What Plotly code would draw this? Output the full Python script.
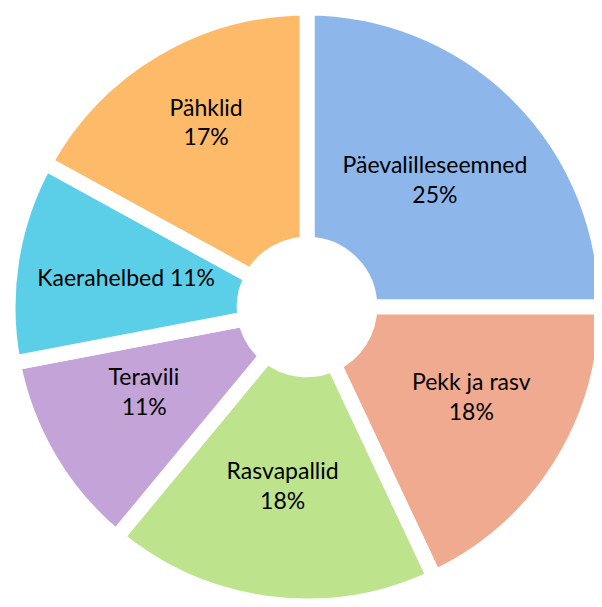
import plotly.graph_objects as go

labels = ["Päevalilleseemned", "Pekk ja rasv", "Rasvapallid", "Teravili", "Kaerahelbed", "Pähklid"]
values = [25, 18, 18, 11, 11, 17]
colors = ["#8db7ea", "#f0aa8f", "#bde38c", "#c3a3d8", "#5ccfe8", "#fdbb6a"]

NB = "\u00a0"  # non-breaking spaces used only to nudge label placement
templates = ["%{label}<br>%{percent:.0%}",
             "%{label}<br>%{percent:.0%}<br> ",
             "%{label}<br>%{percent:.0%}<br> ",
             NB * 10 + "%{label}<br>" + NB * 10 + "%{percent:.0%}<br> <br> ",
             "%{label} %{percent:.0%}<br> <br>" + NB * 158,
             "%{label}<br>%{percent:.0%}<br> "]

W, H = 602, 607
# page body adds an 8px offset; these are figure coordinates
cx, cy, R = 299, 299, 299

fig = go.Figure(go.Pie(
    labels=labels,
    values=values,
    sort=False,
    direction="clockwise",
    rotation=0,
    hole=0.21,
    marker=dict(colors=colors, line=dict(color="white", width=15)),
    texttemplate=templates,
    textposition="inside",
    insidetextorientation="horizontal",
    textfont=dict(family="Lato", size=23, color="black"),
    domain=dict(x=[(cx - R) / W, (cx + R) / W], y=[(H - cy - R) / H, (H - cy + R) / H]),
    showlegend=False,
))
fig.update_layout(width=W, height=H, margin=dict(l=0, r=0, t=0, b=0),
                  uniformtext=dict(minsize=23, mode="show"),
                  paper_bgcolor="white", plot_bgcolor="white")
fig.write_html("out.html")
